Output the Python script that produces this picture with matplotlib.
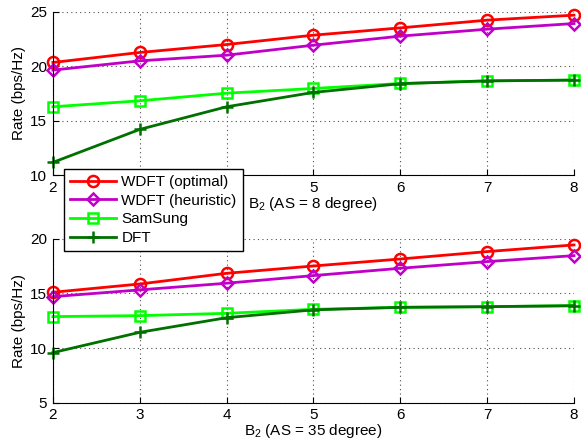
import numpy as np
import matplotlib.pyplot as plt

plt.rcParams["font.family"] = ["Liberation Sans", "DejaVu Sans"]
plt.rcParams["mathtext.fontset"] = "custom"
plt.rcParams["mathtext.rm"] = "Liberation Sans"
plt.rcParams["mathtext.it"] = "Liberation Sans"

# --- data ---------------------------------------------------------------
B2 = [2, 3, 4, 5, 6, 7, 8]

# AS = 8 degree
as8_opt = [20.35, 21.27, 22.0, 22.86, 23.53, 24.24, 24.7]
as8_heur = [19.65, 20.5, 21.02, 21.94, 22.77, 23.41, 23.93]
as8_sams = [16.28, 16.83, 17.53, 17.96, 18.42, 18.66, 18.73]
as8_dft = [11.17, 14.2, 16.28, 17.6, 18.4, 18.66, 18.73]

# AS = 35 degree
as35_opt = [15.11, 15.87, 16.85, 17.52, 18.16, 18.84, 19.45]
as35_heur = [14.71, 15.33, 15.94, 16.64, 17.31, 17.92, 18.47]
as35_sams = [12.88, 12.97, 13.18, 13.55, 13.73, 13.79, 13.88]
as35_dft = [9.58, 11.44, 12.78, 13.5, 13.73, 13.79, 13.88]

LABELS = ["WDFT (optimal)", "WDFT (heuristic)", "SamSung", "DFT"]
COLORS = ["#ff0000", "#c000c8", "#00ff00", "#007000"]
MARKERS = ["o", "D", "s", "+"]
MSIZE = [8, 6.5, 7, 8]

fig = plt.figure(figsize=(5.81, 4.40), dpi=100)
ax1 = fig.add_axes([0.091, 0.602, 0.897, 0.371])
ax2 = fig.add_axes([0.091, 0.085, 0.897, 0.372])

panels = [
    (ax1, [as8_opt, as8_heur, as8_sams, as8_dft], (10, 25), [10, 15, 20, 25],
     r"B$_2$ (AS = 8 degree)"),
    (ax2, [as35_opt, as35_heur, as35_sams, as35_dft], (5, 20), [5, 10, 15, 20],
     r"B$_2$ (AS = 35 degree)"),
]

handles = []
for ax, series, ylim, yticks, xlabel in panels:
    hs = []
    for ys, lab, c, m, ms in zip(series, LABELS, COLORS, MARKERS, MSIZE):
        mfc = "none" if m != "+" else c
        h, = ax.plot(B2, ys, color=c, lw=2, marker=m, ms=ms, mfc=mfc,
                     mew=1.8, label=lab, clip_on=False)
        hs.append(h)
    handles = hs
    ax.set_xlim(2, 8)
    ax.set_ylim(*ylim)
    ax.set_xticks(B2)
    ax.set_yticks(yticks)
    ax.grid(True, ls=(0, (1, 3)), lw=0.8, color="0.3")
    ax.tick_params(direction="in", labelsize=11, length=4, pad=4)
    for s in ("top", "right"):
        ax.spines[s].set_visible(False)
    ax.set_ylabel("Rate (bps/Hz)", fontsize=11, labelpad=3)
    ax.set_xlabel(xlabel, fontsize=11, labelpad=0)

# tick labels 3 and 4 of the upper panel sit under the legend
ax1.set_xticklabels(["2", "", "", "5", "6", "7", "8"])

leg = fig.legend(handles, LABELS, loc="upper left",
                 bbox_to_anchor=(64 / 581, 1 - 169 / 440), borderaxespad=0,
                 fontsize=11, frameon=True, fancybox=False,
                 edgecolor="black", framealpha=1, handlelength=3.0,
                 borderpad=0.4, labelspacing=0.3, handletextpad=0.35)
leg.get_frame().set_linewidth(1.0)

fig.savefig("out.png", dpi=100)
